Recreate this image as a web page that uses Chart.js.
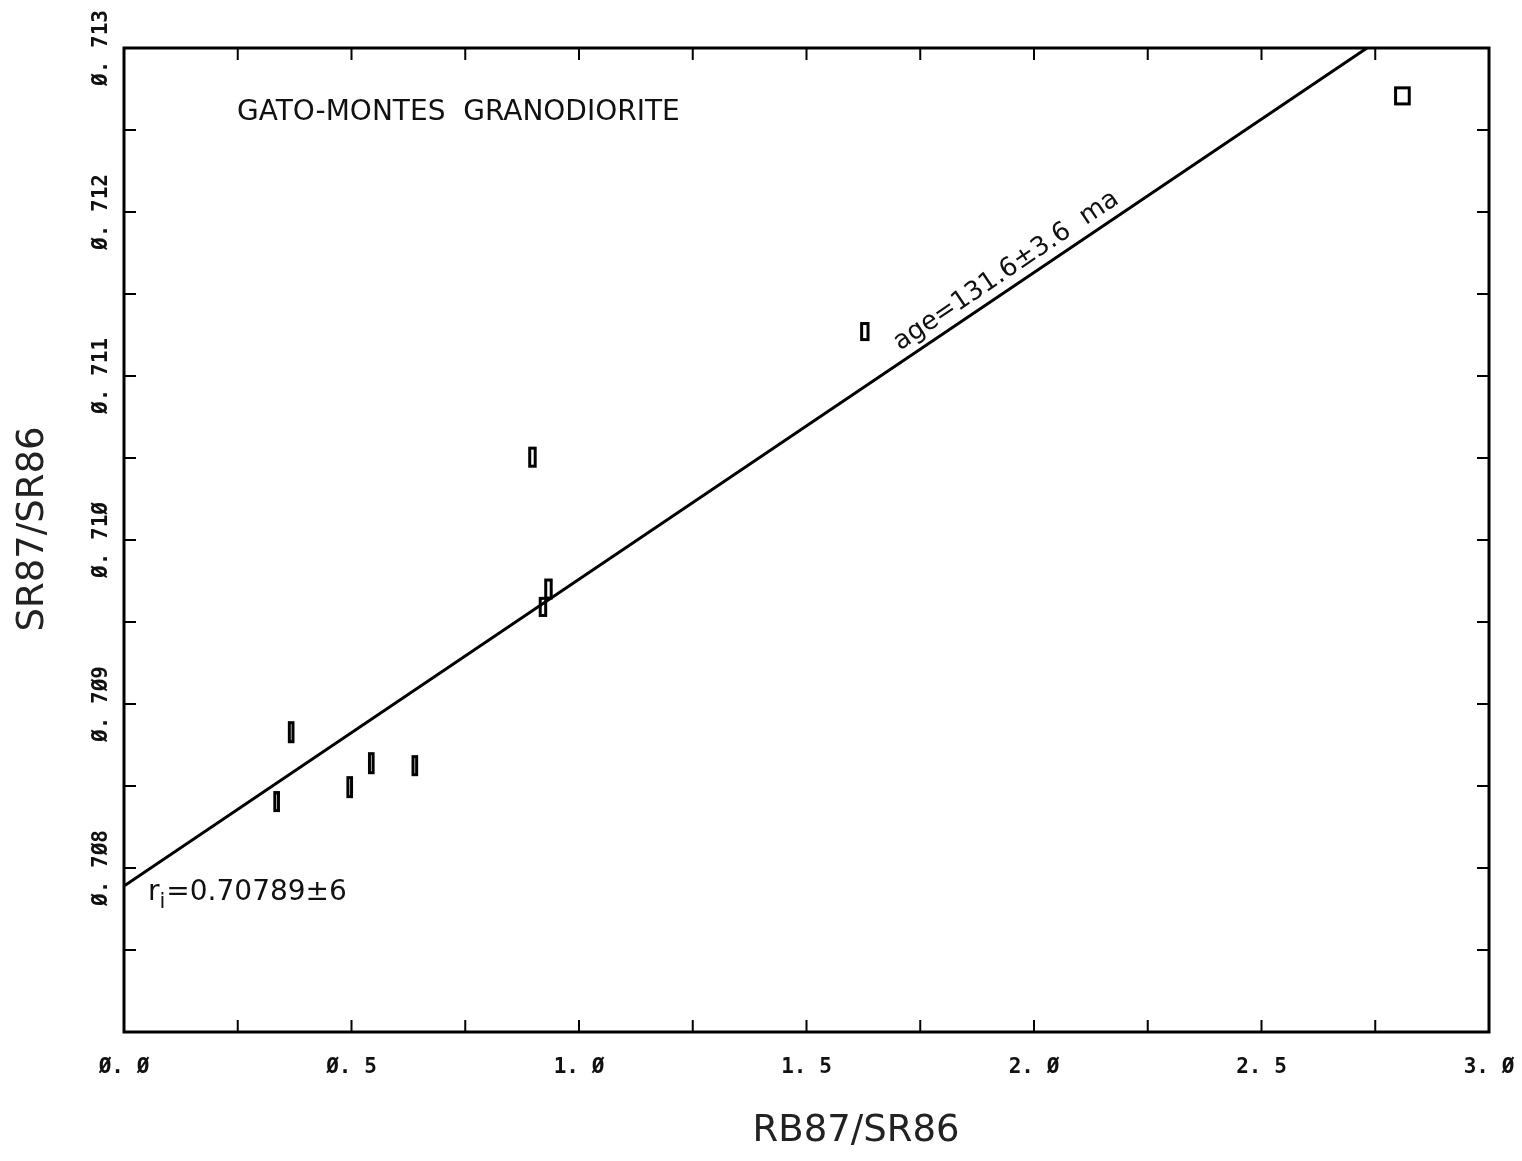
<!DOCTYPE html>
<html>
<head>
<meta charset="utf-8">
<script src="https://cdn.jsdelivr.net/npm/chart.js@4.4.0/dist/chart.umd.min.js"></script>
<style>
  body { margin: 0; background: #fff; }
  #wrap { width: 1522px; height: 1161px; }
</style>
</head>
<body>
<div id="wrap"><canvas id="isochron" width="1522" height="1161"></canvas></div>
<script>
// Rb-Sr isochron, Gato-Montes granodiorite
const rbSr = [0.3355, 0.3674, 0.4961, 0.5435, 0.6392, 0.8977, 0.9208, 0.9329, 1.6282, 2.8097];
const srSr = [0.708405, 0.708828, 0.708493, 0.708639, 0.708624, 0.710505, 0.709592, 0.709701, 0.711271, 0.712708];
// half-widths of the error boxes
const rbSrErr = [0.004, 0.004, 0.004, 0.004, 0.004, 0.006, 0.006, 0.006, 0.007, 0.015];
const srSrErr = [0.000055, 0.000058, 0.000058, 0.000058, 0.000055, 0.000055, 0.000052, 0.000055, 0.000049, 0.000049];

// isochron fit
const intercept = 0.70789;
const slope = 0.0018705;
const fitX = [0, 3.0];

// axes
const xTicks = [0, 0.25, 0.5, 0.75, 1.0, 1.25, 1.5, 1.75, 2.0, 2.25, 2.5, 2.75, 3.0];
const xLabels = [0, 0.5, 1.0, 1.5, 2.0, 2.5, 3.0];
const yTicks = [0.707, 0.7075, 0.708, 0.7085, 0.709, 0.7095, 0.710, 0.7105, 0.711, 0.7115, 0.712, 0.7125, 0.713];
const yLabels = [0.708, 0.709, 0.710, 0.711, 0.712, 0.713];

const TICK_FONT = 'bold 21px "DejaVu Sans Mono", monospace';
const TEXT_FONT = '"DejaVu Sans", sans-serif';

// plotter style: slashed zeros, gap after the point
function plotterNum(v, digits) {
    return v.toFixed(digits).replace(/0/g, '\u00D8').replace('.', '. ');
}

function near(v, list) {
    return list.some(l => Math.abs(l - v) < 1e-9);
}

const points = rbSr.map((x, i) => ({ x: x, y: srSr[i] }));
const fitLine = fitX.map(x => ({ x: x, y: intercept + slope * x }));

// frame, inward ticks, rotated y labels, error boxes and notes
const plotterDecor = {
    id: 'plotterDecor',
    afterDraw(chart) {
        const ctx = chart.ctx;
        const xs = chart.scales.x;
        const ys = chart.scales.y;
        const a = chart.chartArea;
        const tl = 12;

        ctx.save();
        ctx.strokeStyle = '#000';
        ctx.fillStyle = '#000';

        // error boxes
        ctx.lineWidth = 3;
        rbSr.forEach((x, i) => {
            const x0 = xs.getPixelForValue(x - rbSrErr[i]);
            const x1 = xs.getPixelForValue(x + rbSrErr[i]);
            const y0 = ys.getPixelForValue(srSr[i] + srSrErr[i]);
            const y1 = ys.getPixelForValue(srSr[i] - srSrErr[i]);
            ctx.strokeRect(x0, y0, x1 - x0, y1 - y0);
        });

        // frame
        ctx.lineWidth = 3;
        ctx.strokeRect(a.left, a.top, a.right - a.left, a.bottom - a.top);

        // ticks on all four sides
        ctx.lineWidth = 2;
        ctx.beginPath();
        xTicks.forEach(v => {
            const px = xs.getPixelForValue(v);
            ctx.moveTo(px, a.bottom); ctx.lineTo(px, a.bottom - tl);
            ctx.moveTo(px, a.top); ctx.lineTo(px, a.top + tl);
        });
        yTicks.forEach(v => {
            const py = ys.getPixelForValue(v);
            ctx.moveTo(a.left, py); ctx.lineTo(a.left + tl, py);
            ctx.moveTo(a.right, py); ctx.lineTo(a.right - tl, py);
        });
        ctx.stroke();

        // y tick labels, rotated like the plotter output
        ctx.font = TICK_FONT;
        ctx.fillStyle = '#111';
        ctx.textAlign = 'center';
        ctx.textBaseline = 'middle';
        yLabels.forEach(v => {
            const py = ys.getPixelForValue(v);
            ctx.save();
            ctx.translate(a.left - 22, py);
            ctx.rotate(-Math.PI / 2);
            ctx.fillText(plotterNum(v, 3), 0, 0);
            ctx.restore();
        });

        // axis titles
        ctx.fillStyle = '#222';
        ctx.font = '37px ' + TEXT_FONT;
        ctx.fillText('RB87/SR86', 856, 1131);
        ctx.save();
        ctx.translate(33, 529);
        ctx.rotate(-Math.PI / 2);
        ctx.fillText('SR87/SR86', 0, 0);
        ctx.restore();

        // sample name
        ctx.fillStyle = '#111';
        ctx.textAlign = 'left';
        ctx.textBaseline = 'alphabetic';
        ctx.font = '28px ' + TEXT_FONT;
        ctx.fillText('GATO-MONTES  GRANODIORITE', 237, 120);

        // initial ratio
        ctx.font = '28px ' + TEXT_FONT;
        ctx.fillText('r', 148, 900);
        let w = ctx.measureText('r').width;
        ctx.font = '21px ' + TEXT_FONT;
        ctx.fillText('i', 148 + w, 908);
        w += ctx.measureText('i').width + 1;
        ctx.font = '28px ' + TEXT_FONT;
        ctx.fillText('=0.70789\u00B16', 148 + w, 900);

        // age along the isochron
        const ax = 1.96;
        const p0x = xs.getPixelForValue(ax);
        const p0y = ys.getPixelForValue(intercept + slope * ax);
        const p1x = xs.getPixelForValue(ax + 1);
        const p1y = ys.getPixelForValue(intercept + slope * (ax + 1));
        const ang = Math.atan2(p1y - p0y, p1x - p0x);
        ctx.save();
        ctx.translate(p0x, p0y);
        ctx.rotate(ang);
        ctx.font = '26px ' + TEXT_FONT;
        ctx.textAlign = 'center';
        ctx.fillText('age=131.6\u00B13.6  ma', 0, -10);
        ctx.restore();

        ctx.restore();
    }
};

const chart = new Chart(document.getElementById('isochron'), {
    type: 'scatter',
    data: {
        datasets: [
            {
                label: 'samples',
                data: points,
                pointRadius: 0,
                pointHoverRadius: 0,
                showLine: false
            },
            {
                label: 'isochron',
                data: fitLine,
                showLine: true,
                borderColor: '#000',
                borderWidth: 3,
                pointRadius: 0,
                fill: false
            }
        ]
    },
    options: {
        responsive: false,
        animation: false,
        events: [],
        layout: {
            padding: { left: 0, top: 48, right: 33, bottom: 0 }
        },
        plugins: {
            legend: { display: false },
            tooltip: { enabled: false }
        },
        scales: {
            x: {
                type: 'linear',
                min: 0,
                max: 3.0,
                afterBuildTicks: scale => {
                    scale.ticks = xTicks.map(v => ({ value: v }));
                },
                afterFit: scale => {
                    scale.height = 129;
                    // keep the end labels from squeezing the plot frame
                    scale.paddingLeft = 0;
                    scale.paddingRight = 0;
                },
                grid: { display: false },
                border: { display: false },
                ticks: {
                    autoSkip: false,
                    maxRotation: 0,
                    padding: 15,
                    color: '#111',
                    font: { family: '"DejaVu Sans Mono", monospace', size: 21, weight: 'bold' },
                    callback: v => near(v, xLabels) ? plotterNum(v, 1) : ''
                },
                title: { display: false }
            },
            y: {
                type: 'linear',
                min: 0.707,
                max: 0.713,
                afterBuildTicks: scale => {
                    scale.ticks = yTicks.map(v => ({ value: v }));
                },
                afterFit: scale => {
                    scale.width = 124;
                    scale.paddingTop = 0;
                    scale.paddingBottom = 0;
                },
                grid: { display: false },
                border: { display: false },
                ticks: { display: false },
                title: { display: false }
            }
        }
    },
    plugins: [plotterDecor]
});
</script>
</body>
</html>
